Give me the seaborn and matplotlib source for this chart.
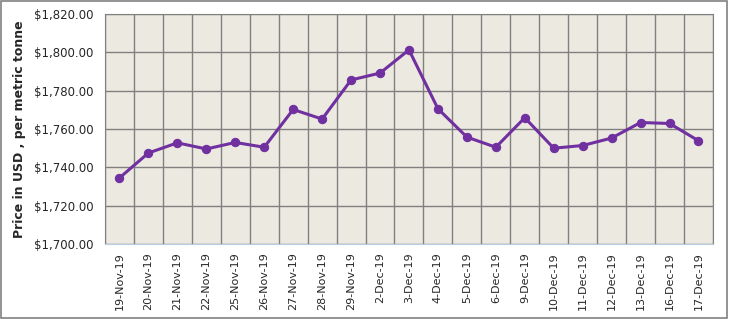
import pandas as pd
import numpy as np
import matplotlib
matplotlib.use("Agg")
import matplotlib.pyplot as plt
import matplotlib.ticker as mticker
from matplotlib.patches import Rectangle
import seaborn as sns

dates = ["19-Nov-19", "20-Nov-19", "21-Nov-19", "22-Nov-19", "25-Nov-19", "26-Nov-19",
         "27-Nov-19", "28-Nov-19", "29-Nov-19", "2-Dec-19", "3-Dec-19", "4-Dec-19",
         "5-Dec-19", "6-Dec-19", "9-Dec-19", "10-Dec-19", "11-Dec-19", "12-Dec-19",
         "13-Dec-19", "16-Dec-19", "17-Dec-19"]
prices = [1734.5, 1747.5, 1752.8, 1749.6, 1753.0, 1750.5,
          1770.2, 1765.2, 1785.6, 1789.2, 1801.3, 1770.6,
          1755.8, 1750.5, 1765.9, 1750.0, 1751.4, 1755.3,
          1763.4, 1762.9, 1753.9]

df = pd.DataFrame({"date": dates, "price": prices})

sns.set_style("white")
plt.rcParams["font.family"] = ["DejaVu Sans"]

fig = plt.figure(figsize=(7.29, 3.19), dpi=100)
ax = fig.add_axes([0.144, 0.235, 0.834, 0.721])
ax.set_facecolor("#ECE9E0")

sns.lineplot(data=df, x="date", y="price", sort=False, marker="o", color="#7030A0",
             linewidth=2.2, markersize=6, markeredgecolor="#7030A0", ax=ax)

ax.set_xlim(-0.5, len(dates) - 0.5)
ax.set_ylim(1700, 1820)
ax.yaxis.set_major_locator(mticker.MultipleLocator(20))
ax.yaxis.set_major_formatter(mticker.FuncFormatter(lambda v, p: f"${v:,.2f}"))
ax.set_xticks(range(len(dates)))
ax.set_xticklabels(dates, rotation=90, fontsize=8)
ax.tick_params(axis="y", labelsize=8.5, length=0, pad=8)
ax.tick_params(axis="x", length=0, pad=6)

ax.set_xticks(np.arange(-0.5, len(dates), 1), minor=True)
ax.grid(which="minor", axis="x", color="#808080", linewidth=1)
ax.grid(which="major", axis="y", color="#808080", linewidth=1)
ax.grid(which="major", axis="x", visible=False)
ax.set_axisbelow(True)

for s in ["top", "right", "left"]:
    ax.spines[s].set_color("#808080")
ax.spines["bottom"].set_color("#B9CDE5")

ax.set_xlabel("")
ax.set_ylabel("Price in USD , per metric tonne", fontsize=9, fontweight="bold", labelpad=6)

fig.patches.append(Rectangle((0.002, 0.004), 0.995, 0.992, transform=fig.transFigure,
                             fill=False, edgecolor="#808080", linewidth=1.2))

fig.savefig("out.png", dpi=100)
